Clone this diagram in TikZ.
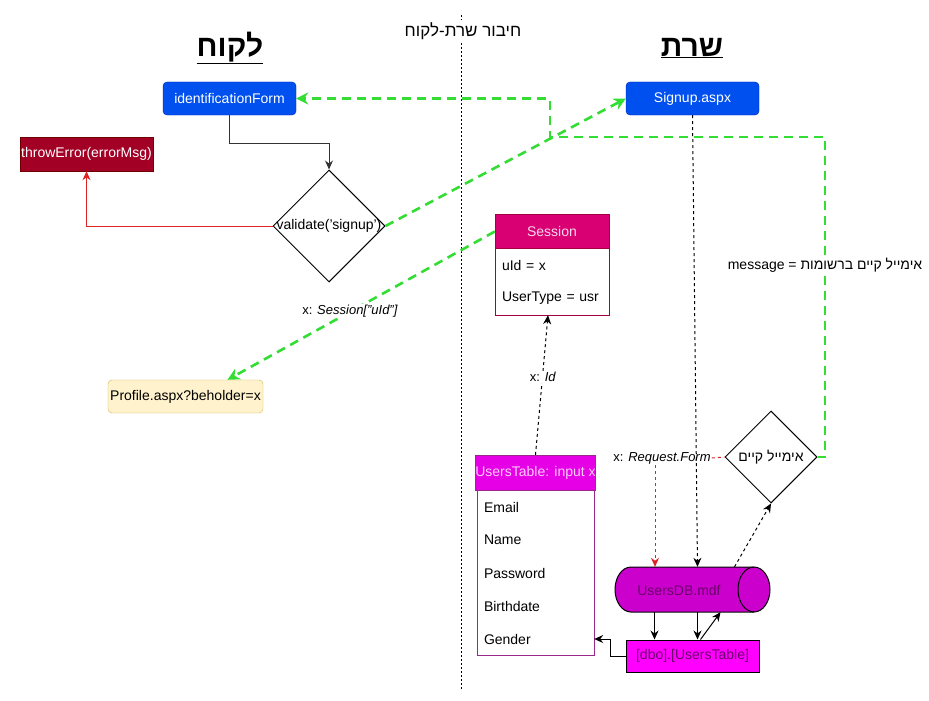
\documentclass[tikz,border=0pt]{standalone}
\usepackage{fontspec}
\setmainfont{Liberation Sans}
\newfontfamily\heb[Script=Hebrew]{Liberation Sans}
\TeXXeTstate=1
\usetikzlibrary{shapes.geometric,arrows.meta}
\definecolor{dblue}{HTML}{0050EF}
\definecolor{dbluestroke}{HTML}{001DBC}
\definecolor{errred}{HTML}{A20025}
\definecolor{errstroke}{HTML}{6F0000}
\definecolor{sesshead}{HTML}{D80073}
\definecolor{sessstroke}{HTML}{A50040}
\definecolor{uthead}{HTML}{E600E6}
\definecolor{utstroke}{HTML}{9A2A8A}
\definecolor{cylfill}{HTML}{CC00CC}
\definecolor{darkpurp}{HTML}{6A006A}
\definecolor{magfill}{HTML}{FF00FF}
\definecolor{proffill}{HTML}{FFF2CC}
\definecolor{profstroke}{HTML}{D6B656}
\definecolor{gdash}{HTML}{33DD33}
\definecolor{rline}{HTML}{DD2222}
\definecolor{grayline}{HTML}{333333}
\tikzset{
  bluebox/.style={draw=dbluestroke, fill=dblue, text=white, rounded corners=4pt, minimum width=133, minimum height=33, inner sep=0pt},
  errbox/.style={draw=errstroke, fill=errred, text=white, minimum width=133, minimum height=34, inner sep=0pt},
  headbox/.style={minimum height=34, inner sep=0pt},
  rowtext/.style={inner xsep=7pt, inner ysep=0pt, align=left, minimum height=33},
  tip/.style={-{Stealth[length=9pt,width=8pt]}},
  greenarrow/.style={draw=gdash, line width=2.6pt, dash pattern=on 9pt off 6pt, -{Stealth[length=12pt,width=12pt]}},
  blackdash/.style={draw=black, line width=1pt, dash pattern=on 3pt off 3pt, tip},
  reddash/.style={draw=rline, line width=1pt, dash pattern=on 3pt off 3pt},
  lbl/.style={fill=white, inner sep=1pt, font=\fontsize{13}{15}\selectfont},
}
\begin{document}
\begin{tikzpicture}[x=1pt,y=-1pt, font=\fontsize{14}{16}\selectfont]
\useasboundingbox[fill=white] (0,0) rectangle (929,701);

% divider
\draw[line width=1pt, dash pattern=on 2pt off 2pt] (461,15) -- (461,690);

% titles
\node (tcl) at (230,48) {\fontsize{30}{34}\selectfont\bfseries\underline{\heb\beginR לקוח\endR}};
\node (tsv) at (692,48) {\fontsize{30}{34}\selectfont\bfseries\underline{\heb\beginR שרת\endR}};
\node[fill=white, inner sep=2pt] (tcon) at (463,31) {\fontsize{17}{20}\selectfont\heb\beginR חיבור שרת-לקוח\endR};

% nodes
\node[bluebox] (idf) at (229.5,98.5) {identificationForm};
\node[bluebox] (sig) at (692.5,98.5) {Signup.aspx};
\node[errbox] (err) at (86.5,154) {throwError(errorMsg)};
\node[draw=black, line width=1pt, diamond, aspect=1, minimum width=112, minimum height=112, inner sep=0pt] (val) at (329,226) {};
\node (valt) at (val.center) {validate('signup')};
\node[draw=profstroke, fill=proffill, rounded corners=4pt, minimum width=155, minimum height=33, inner sep=0pt] (prof) at (185.5,396.5) {Profile.aspx?beholder=x};

% Session
\node[draw=sessstroke, fill=white, minimum width=114, minimum height=67, inner sep=0pt] (sessbody) at (552,281.5) {};
\node[draw=sessstroke, fill=sesshead, text=white!85!sesshead, headbox, minimum width=114] (sess) at (552,231.5) {Session};
\node[rowtext, text width=100] (uid) at (552,265) {uId = x};
\node[rowtext, text width=100] (utype) at (552,298) {UserType = usr};

% UsersTable
\node[draw=utstroke, fill=white, minimum width=117, minimum height=165, inner sep=0pt] (utbody) at (535.5,572.5) {};
\node[draw=utstroke, fill=uthead, text=white!80!uthead, headbox, minimum width=117, minimum height=35] (ut) at (535.5,472.5) {UsersTable: input x};
\node[rowtext, text width=103] (email) at (535.5,507) {Email};
\node[rowtext, text width=103] (name) at (535.5,540) {Name};
\node[rowtext, text width=103] (pass) at (535.5,573) {Password};
\node[rowtext, text width=103] (birth) at (535.5,606) {Birthdate};
\node[rowtext, text width=103] (gender) at (535.5,639) {Gender};

% DB cylinder (drawn directly around a named node)
\node[minimum width=155, minimum height=45, inner sep=0pt] (cyl) at (692.5,589.5) {};
\fill[cylfill] (631,567) rectangle (754,612);
\fill[cylfill] (631,589.5) ellipse[x radius=16, y radius=22.5];
\filldraw[fill=cylfill, line width=1pt] (754,589.5) ellipse[x radius=16, y radius=22.5];
\draw[line width=1pt] (754,567) -- (631,567) arc[start angle=270, end angle=90, x radius=16, y radius=22.5] -- (754,612);
\node[text=darkpurp] (cylt) at (679,590) {UsersDB.mdf};
\node[draw=black, line width=1pt, fill=magfill, text=darkpurp, minimum width=133, minimum height=32, inner sep=0pt] (dbo) at (692.5,656) {[dbo].[UsersTable]};

% email exists diamond
\node[draw=black, line width=1pt, diamond, aspect=1, minimum width=92, minimum height=92, inner sep=0pt] (d2) at (771,457) {};
\node (d2t) at (d2.center) {\heb\beginR אימייל קיים\endR};
\node[inner sep=1pt, font=\fontsize{13}{15}\selectfont] (rf) at (662,458) {x: \textit{Request.Form}};

% connectors
\coordinate (c1) at (329,143);
\draw[grayline, line width=1pt, tip] (idf.south) |- (c1) -- (val.north);
\draw[rline, line width=1pt, tip] (val.west) -| (err.south);
\draw[greenarrow] (val.east) -- (sig.west);
\coordinate (g1) at (825,137);
\coordinate (g2) at (550,137);
\draw[greenarrow] (d2.east) -| (g1) -- (g2) |- (idf.east);
\node[lbl, font=\fontsize{14}{16}\selectfont] (msg) at (825,265) {message = {\heb\beginR אימייל קיים ברשומות\endR}};
\draw[greenarrow] (sess.west) -- ([xshift=42pt]prof.north);
\node[lbl] (slbl) at (350,311) {x: \textit{Session["uId"]}};
\draw[blackdash] (ut.north) -- ([xshift=-4pt]sessbody.south);
\node[lbl] (idlbl) at (543,377) {x: \textit{Id}};
\draw[blackdash] (sig.south) -- ([xshift=5pt]cyl.north);
\draw[reddash] (rf.east) -- (d2.west);
\draw[reddash, -{Stealth[length=9pt,width=8pt]}] ([xshift=-7pt]rf.south) -- ([xshift=-7pt]rf.south |- cyl.north);
\draw[blackdash] ([xshift=42pt]cyl.north) -- (d2.south);
\draw[line width=1pt, tip] ([xshift=-38pt]cyl.south) -- ([xshift=-38pt]dbo.north);
\draw[line width=1pt, tip] ([xshift=5pt]cyl.south) -- ([xshift=5pt]dbo.north);
\draw[line width=1pt, tip] ([xshift=8pt]dbo.north) -- ([xshift=28pt]cyl.south);
\draw[line width=1pt, tip] (dbo.west) -- ++(-15,0) |- (gender.east);
\end{tikzpicture}
\end{document}
